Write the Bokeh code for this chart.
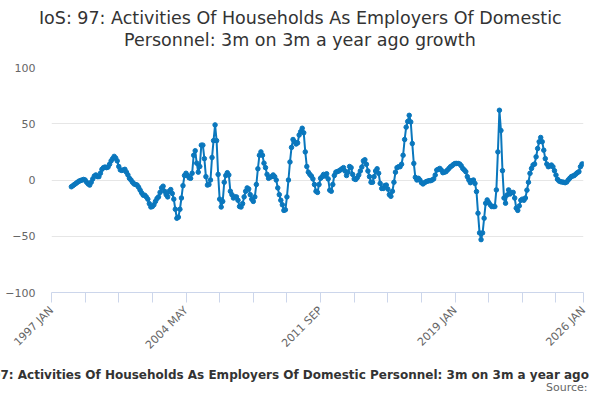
import math
from bokeh.plotting import figure
from bokeh.models import Range1d, FixedTicker, Title, ColumnDataSource
from bokeh.embed import file_html
from bokeh.resources import INLINE

# ---------------- data ----------------
title_lines = ["IoS: 97: Activities Of Households As Employers Of Domestic",
               "Personnel: 3m on 3m a year ago growth"]
caption_text = ("IoS: 97: Activities Of Households As Employers Of Domestic "
                "Personnel: 3m on 3m a year ago growth")
source_text = "Source:"

# x positions are months counted from 1997 JAN
tick_months = [0, 22, 44, 66, 88, 110, 132, 154, 176, 198, 220, 242, 264, 286, 308, 330, 348]
tick_names = {0: "1997 JAN", 88: "2004 MAY", 176: "2011 SEP", 264: "2019 JAN", 348: "2026 JAN"}
y_ticks = [-100, -50, 0, 50, 100]

first_month = 13  # 1998 FEB
growth = [
    # 1998 FEB -
    -6, -5, -4, -3, -2, -1, -0.5, 0, 0.5, 0, -2,
    -3.5, -4.5, -2, 1, 3.5, 4.5, 3, 3, 6, 9.5, 11, 11.5,          # 1999
    11, 11.5, 14, 17, 19, 21, 19.5, 17, 12, 9, 8.5, 9,           # 2000
    9.5, 7, 4.5, 1.5, 0, -2, -3.5, -4, -4.5, -6.5, -9, -11.5,    # 2001
    -13.5, -13.5, -15, -17, -21, -24, -23.5, -22, -19, -16.5, -15, -11,   # 2002
    -7, -5.5, -10, -13, -15, -10, -8.5, -12, -17, -26, -34, -33,          # 2003
    -26, -16, -5, 4, 6, 4, 2, 1.5, 6, 22, 26, 15,                         # 2004
    7, 12, 31, 31, 19, 3, -4.5, -4, 0, 20, 35, 49,                        # 2005
    35, 5, -17, -24, -19, -2, 4, 6.5, 4.5, -10, -13, -16,                 # 2006
    -15, -15, -18, -23.5, -24, -21, -15, -10, -7, -8, -13, -17,           # 2007
    -19, -15, -4, 10, 22, 25, 22, 15, 11, 5, 1.5, 2.5,                    # 2008
    3, 4.5, 3, 0, -7, -13, -18, -22, -27, -26.5, -15, 0,                  # 2009
    16, 29, 36, 34, 32, 33, 40, 43, 46, 42, 25, 12,                       # 2010
    7, 5, 3.5, 1, -4, -10, -11, -4, 1.5, 3, 5, 3.5,                       # 2011
    5.5, 1, -9, -10, -4, 4, 7, 7.5, 8, 9, 10, 11,                         # 2012
    8, 4, 7, 12, 11, 5, 1, 0.5, 2, 4.5, 8, 11.5,                          # 2013
    17, 18, 14, 8, 3, -2, -2, 3, 8, 10, 6, -3,                            # 2014
    -7.5, -7.5, -5, -4.5, -8, -13, -14.5, -10, -2, 7, 11, 11.8,           # 2015
    11.8, 14, 22, 36, 47, 52, 57.5, 51.6, 32.4, 14.7, 2.4, 0,             # 2016
    1.5, 0, -2.4, -3.5, -2.4, -1.5, -1, -0.6, -0.6, 0, 1, 4.4,            # 2017
    8.8, 9.5, 10.3, 8.8, 6.5, 7, 7.4, 8.8, 10.3, 11.8, 12.7, 13.9,        # 2018
    14.7, 14.7, 14.7, 14.2, 12.7, 10.3, 9, 7.4, 3, 0, -2.4, -0.6,         # 2019
    0, -3, -10.3, -29.5, -47, -53, -47, -34, -20.6, -17.7, -20, -22,      # 2020
    -23.6, -23.6, -23.6, -8.8, 25, 62, 44, 8.3, -16, -20.6, -13.3, -8.8,  # 2021
    -12.4, -11.2, -11, -16, -25, -27, -23, -18, -17, -18, -16, -9,        # 2022
    -2, 5.9, 10.3, 13.3, 14.2, 20.6, 28, 34, 37.8, 34, 26.5, 19,          # 2023
    14.2, 11.8, 12.4, 13.3, 11.8, 8.3, 4.4, 0.6, -0.9, -1.5, -1.8, -2,    # 2024
    -2.4, -1.8, 0, 1.5, 3, 3.5, 4.1, 5.3, 6.5, 7.4, 11.8, 14.2,           # 2025
    14.2,                                                                  # 2026 JAN
]
months = list(range(first_month, first_month + len(growth)))

# ---------------- figure ----------------
FONT = "DejaVu Sans"
LINE = "#0a77bd"

p = figure(width=592, height=392, output_backend="svg", toolbar_location=None,
           x_range=Range1d(0, 348), y_range=Range1d(-100, 100),
           min_border_left=51, min_border_right=9, min_border_top=67, min_border_bottom=99)
p.outline_line_color = None
p.background_fill_color = "white"
p.border_fill_color = "white"

p.xgrid.visible = False
p.ygrid.ticker = FixedTicker(ticks=y_ticks)
p.ygrid.grid_line_color = "#e6e6e6"

p.yaxis.ticker = FixedTicker(ticks=y_ticks)
p.yaxis.axis_line_color = None
p.yaxis.major_tick_line_color = None
p.yaxis.minor_tick_line_color = None
p.yaxis.major_tick_out = 0
p.yaxis.major_tick_in = 0
p.yaxis.minor_tick_out = 0
p.yaxis.major_label_standoff = 16
p.yaxis.major_label_text_font = FONT
p.yaxis.major_label_text_font_size = "11px"
p.yaxis.major_label_text_color = "#666666"

p.xaxis.ticker = FixedTicker(ticks=tick_months, minor_ticks=[])
p.xaxis.major_label_overrides = {m: tick_names.get(m, "") for m in tick_months}
p.xaxis.axis_line_color = "#ccd6eb"
p.xaxis.major_tick_line_color = "#ccd6eb"
p.xaxis.major_tick_out = 10
p.xaxis.major_tick_in = 0
p.xaxis.minor_tick_line_color = None
p.xaxis.major_label_orientation = math.pi / 4
p.xaxis.major_label_standoff = 6
p.xaxis.major_label_text_font = FONT
p.xaxis.major_label_text_font_size = "11px"
p.xaxis.major_label_text_color = "#666666"

src = ColumnDataSource(dict(month=months, growth=growth))
p.line("month", "growth", source=src, line_color=LINE, line_width=2)
p.scatter("month", "growth", source=src, size=4.5, fill_color=LINE, line_color=LINE)

# ---- titles above (first added = nearest the plot) ----
p.add_layout(Title(text=" ", text_font_size="1px", standoff=14.7), "above")
p.add_layout(Title(text=title_lines[1], align="left", offset=72.6, standoff=0,
                   vertical_align="bottom", text_font=FONT, text_font_size="17.5px",
                   text_font_style="normal", text_color="#333333"), "above")
p.add_layout(Title(text=title_lines[0], align="left", offset=-12.6, standoff=0,
                   vertical_align="bottom", text_font=FONT, text_font_size="17.5px",
                   text_font_style="normal", text_color="#333333"), "above")

# ---- caption and source below the axis ----
p.add_layout(Title(text=" ", text_font_size="1px", standoff=5.0), "below")
p.add_layout(Title(text=caption_text, align="left", offset=-89.7, standoff=-4,
                   vertical_align="bottom", text_font=FONT, text_font_size="12px",
                   text_font_style="bold", text_color="#333333"), "below")
p.add_layout(Title(text=source_text, align="right", offset=-4, standoff=-2,
                   vertical_align="bottom", text_font=FONT, text_font_size="11px",
                   text_font_style="normal", text_color="#666666"), "below")

open("out.html", "w").write(file_html(p, INLINE))
